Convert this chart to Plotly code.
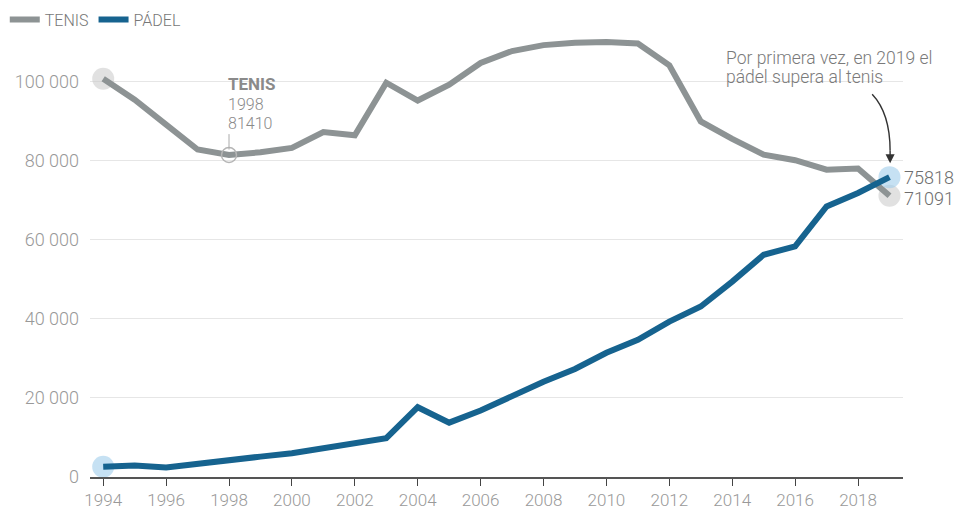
import plotly.graph_objects as go

years = list(range(1994, 2020))
tenis = [100700, 95400, 89100, 82800, 81410, 82100, 83200, 87200, 86400, 99700,
         95200, 99200, 104700, 107700, 109200, 109800, 110000, 109600, 104100, 89900,
         85500, 81500, 80100, 77700, 78000, 71091]
padel = [2600, 2900, 2400, 3200, 4100, 5150, 6000, 7300, 8500, 9800,
         17650, 13750, 16800, 20500, 24100, 27300, 31400, 34700, 39300, 43100,
         49400, 56200, 58300, 68400, 71800, 75818]

y_ticks = [0, 20000, 40000, 60000, 80000, 100000]
y_labels = ["0", "20 000", "40 000", "60 000", "80 000", "100 000"]
x_ticks = list(range(1994, 2019, 2))

C_TENIS = "#8d9394"
C_PADEL = "#16638f"
TXT = "#8a8a8a"
FONT = "Roboto"

fig = go.Figure()

# highlight halos (under lines)
fig.add_trace(go.Scatter(x=[years[0], years[-1]], y=[tenis[0], tenis[-1]], mode="markers",
                         marker=dict(size=22, color="rgba(200,200,200,0.55)"),
                         showlegend=False, hoverinfo="skip"))
fig.add_trace(go.Scatter(x=[years[0], years[-1]], y=[padel[0], padel[-1]], mode="markers",
                         marker=dict(size=22, color="rgba(160,205,235,0.6)"),
                         showlegend=False, hoverinfo="skip"))

fig.add_trace(go.Scatter(x=years, y=tenis, mode="lines", name="TENIS",
                         line=dict(color=C_TENIS, width=6)))
fig.add_trace(go.Scatter(x=years, y=padel, mode="lines", name="PÁDEL",
                         line=dict(color=C_PADEL, width=6)))

# 1998 open circle
fig.add_trace(go.Scatter(x=[1998], y=[tenis[4]], mode="markers",
                         marker=dict(size=15, symbol="circle-open", color="#b5b5b5",
                                     line=dict(width=1.5)),
                         showlegend=False, hoverinfo="skip"))

ann = []
# TENIS 1998 label
ann.append(dict(x=1997.9, y=99300, xref="x", yref="y", text="<b>TENIS</b>", showarrow=False,
                xanchor="left", yanchor="middle", font=dict(size=17, color="#8a8a8a", family=FONT)))
ann.append(dict(x=1997.9, y=94300, xref="x", yref="y", text="1998", showarrow=False,
                xanchor="left", yanchor="middle", font=dict(size=16, color="#8a8a8a", family=FONT, weight=300)))
ann.append(dict(x=1997.9, y=89500, xref="x", yref="y", text="81410", showarrow=False,
                xanchor="left", yanchor="middle", font=dict(size=16, color="#8a8a8a", family=FONT, weight=300)))
# end labels
ann.append(dict(x=2019, y=padel[-1], xref="x", yref="y", text=f"{padel[-1]}", showarrow=False,
                xanchor="left", yanchor="middle", xshift=13,
                font=dict(size=18, color="#6e6e6e", family=FONT, weight=300)))
ann.append(dict(x=2019, y=tenis[-1], xref="x", yref="y", text=f"{tenis[-1]}", showarrow=False,
                xanchor="left", yanchor="middle", xshift=13, yshift=-3,
                font=dict(size=18, color="#6e6e6e", family=FONT, weight=300)))
# note (two lines)
note_lines = ["Por primera vez, en 2019 el", "pádel supera al tenis"]
for txt, yv in zip(note_lines, [105900, 101100]):
    ann.append(dict(x=2013.75, y=yv, xref="x", yref="y", text=txt, showarrow=False,
                    xanchor="left", yanchor="middle", align="left",
                    font=dict(size=17.5, color="#7a7a7a", family=FONT, weight=300)))
# arrow head
ann.append(dict(x=2019.02, y=79300, xref="x", yref="y", ax=0, ay=-14, axref="pixel", ayref="pixel",
                text="", showarrow=True, arrowhead=2, arrowsize=1.3, arrowwidth=1.4,
                arrowcolor="#333333"))

shapes = []
# curved arrow stem
shapes.append(dict(type="path", xref="x", yref="y",
                   path="M 2018.45,96800 Q 2019.02,92000 2019.02,82500",
                   line=dict(color="#333333", width=1.4)))
# tick under 1998 label
shapes.append(dict(type="line", xref="x", yref="y", x0=1998, x1=1998, y0=86700, y1=82800,
                   line=dict(color="#aaaaaa", width=1)))

fig.update_layout(
    width=954, height=514,
    margin=dict(l=90, r=51, t=38, b=37, autoexpand=False),
    paper_bgcolor="white", plot_bgcolor="white",
    font=dict(family=FONT, color=TXT, size=16),
    showlegend=True,
    legend=dict(orientation="h", x=0.005, xref="container", y=0.995, yref="container",
                xanchor="left", yanchor="top", itemwidth=30,
                font=dict(size=16, color="#777777", family=FONT, weight=300),
                bgcolor="rgba(0,0,0,0)", tracegroupgap=0),
    annotations=ann,
    shapes=shapes,
)
fig.update_xaxes(range=[1993.58, 2019.43], tickvals=x_ticks, ticktext=[str(v) for v in x_ticks],
                 showgrid=False, zeroline=False, showline=True, linecolor="#555555", linewidth=1.5,
                 ticks="outside", ticklen=7, tickcolor="#444444", tickwidth=1.2, automargin=False,
                 tickfont=dict(size=17, color="#999999", family=FONT, weight=300))
fig.update_yaxes(range=[0, 111000], tickvals=y_ticks, ticktext=y_labels,
                 showgrid=True, gridcolor="#e6e6e6", gridwidth=1, zeroline=False,
                 showline=False, ticks="", ticklabelstandoff=10, automargin=False,
                 tickfont=dict(size=18, color="#999999", family=FONT, weight=300))

fig.write_html("out.html", config={"displayModeBar": False},
               post_script="document.body.style.margin='0';document.body.style.overflow='hidden';")
